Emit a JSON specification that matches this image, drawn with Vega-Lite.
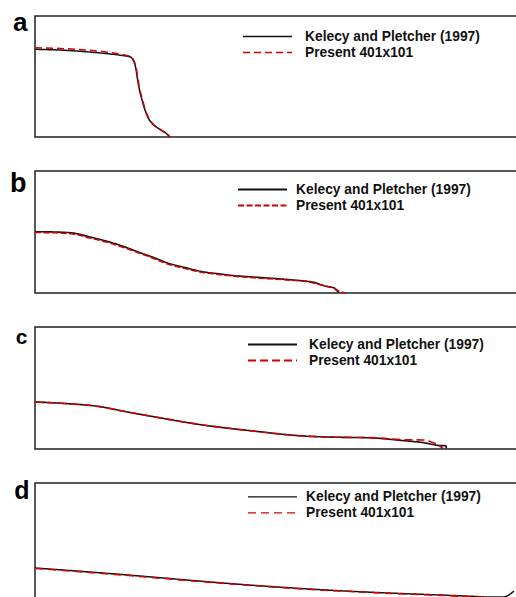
{
  "$schema": "https://vega.github.io/schema/vega-lite/v6.json",
  "padding": {"left": 8, "top": 8, "right": 0, "bottom": 0},
  "background": "white",
  "spacing": 34,
  "bounds": "flush",
  "config": {
    "view": {"stroke": "#222222", "strokeWidth": 1.5},
    "font": "Liberation Sans",
    "legend": {
      "title": null, "orient": "none", "symbolType": "stroke", "symbolSize": 2401,
      "symbolStrokeWidth": 1.5, "clipHeight": 13, "rowPadding": 1, "padding": 0,
      "labelFont": "Liberation Sans", "labelFontWeight": "bold", "labelFontSize": 13.8,
      "labelColor": "#111111", "labelLimit": 400
    },
    "axisY": {
      "domain": false, "ticks": false, "labels": false, "grid": false,
      "titleAngle": 0, "titleAlign": "right", "titleBaseline": "alphabetic",
      "titleFont": "Liberation Sans", "titleFontWeight": "bold", "titleColor": "#000000"
    }
  },
  "resolve": {
    "scale": {"x": "independent", "y": "independent", "color": "independent", "strokeDash": "independent"},
    "legend": {"color": "independent", "strokeDash": "independent"}
  },
  "data": {"values": [
    {"panel": "a", "series": "Kelecy and Pletcher (1997)", "x": 0, "y": 87.7},
    {"panel": "a", "series": "Kelecy and Pletcher (1997)", "x": 30, "y": 86.7},
    {"panel": "a", "series": "Kelecy and Pletcher (1997)", "x": 60, "y": 84.5},
    {"panel": "a", "series": "Kelecy and Pletcher (1997)", "x": 85, "y": 81.8},
    {"panel": "a", "series": "Kelecy and Pletcher (1997)", "x": 95.7, "y": 80},
    {"panel": "a", "series": "Kelecy and Pletcher (1997)", "x": 98, "y": 77},
    {"panel": "a", "series": "Kelecy and Pletcher (1997)", "x": 100.7, "y": 69.3},
    {"panel": "a", "series": "Kelecy and Pletcher (1997)", "x": 102.5, "y": 58},
    {"panel": "a", "series": "Kelecy and Pletcher (1997)", "x": 104, "y": 49.3},
    {"panel": "a", "series": "Kelecy and Pletcher (1997)", "x": 107.3, "y": 36},
    {"panel": "a", "series": "Kelecy and Pletcher (1997)", "x": 110, "y": 27},
    {"panel": "a", "series": "Kelecy and Pletcher (1997)", "x": 112.3, "y": 21},
    {"panel": "a", "series": "Kelecy and Pletcher (1997)", "x": 117.3, "y": 13.3},
    {"panel": "a", "series": "Kelecy and Pletcher (1997)", "x": 122, "y": 9.5},
    {"panel": "a", "series": "Kelecy and Pletcher (1997)", "x": 127.3, "y": 6},
    {"panel": "a", "series": "Kelecy and Pletcher (1997)", "x": 132.3, "y": 2.7},
    {"panel": "a", "series": "Kelecy and Pletcher (1997)", "x": 134.7, "y": 0},
    {"panel": "a", "series": "Present 401x101", "x": 0, "y": 89.3},
    {"panel": "a", "series": "Present 401x101", "x": 30, "y": 88.3},
    {"panel": "a", "series": "Present 401x101", "x": 60, "y": 86.3},
    {"panel": "a", "series": "Present 401x101", "x": 85, "y": 82.8},
    {"panel": "a", "series": "Present 401x101", "x": 96, "y": 80.3},
    {"panel": "a", "series": "Present 401x101", "x": 98.5, "y": 77},
    {"panel": "a", "series": "Present 401x101", "x": 101.2, "y": 69.3},
    {"panel": "a", "series": "Present 401x101", "x": 103, "y": 58},
    {"panel": "a", "series": "Present 401x101", "x": 104.5, "y": 49.3},
    {"panel": "a", "series": "Present 401x101", "x": 107.8, "y": 36},
    {"panel": "a", "series": "Present 401x101", "x": 110.5, "y": 27},
    {"panel": "a", "series": "Present 401x101", "x": 112.8, "y": 21},
    {"panel": "a", "series": "Present 401x101", "x": 117.8, "y": 13.3},
    {"panel": "a", "series": "Present 401x101", "x": 122.5, "y": 9.5},
    {"panel": "a", "series": "Present 401x101", "x": 127.8, "y": 6},
    {"panel": "a", "series": "Present 401x101", "x": 132.8, "y": 2.7},
    {"panel": "a", "series": "Present 401x101", "x": 135.2, "y": 0},

    {"panel": "b", "series": "Kelecy and Pletcher (1997)", "x": 0, "y": 61.3},
    {"panel": "b", "series": "Kelecy and Pletcher (1997)", "x": 20, "y": 61},
    {"panel": "b", "series": "Kelecy and Pletcher (1997)", "x": 37.7, "y": 60},
    {"panel": "b", "series": "Kelecy and Pletcher (1997)", "x": 55, "y": 56},
    {"panel": "b", "series": "Kelecy and Pletcher (1997)", "x": 72.7, "y": 51.6},
    {"panel": "b", "series": "Kelecy and Pletcher (1997)", "x": 90, "y": 46},
    {"panel": "b", "series": "Kelecy and Pletcher (1997)", "x": 106, "y": 40},
    {"panel": "b", "series": "Kelecy and Pletcher (1997)", "x": 120, "y": 35},
    {"panel": "b", "series": "Kelecy and Pletcher (1997)", "x": 132.7, "y": 30},
    {"panel": "b", "series": "Kelecy and Pletcher (1997)", "x": 150, "y": 25.5},
    {"panel": "b", "series": "Kelecy and Pletcher (1997)", "x": 166, "y": 21.6},
    {"panel": "b", "series": "Kelecy and Pletcher (1997)", "x": 185, "y": 19},
    {"panel": "b", "series": "Kelecy and Pletcher (1997)", "x": 199.3, "y": 17.3},
    {"panel": "b", "series": "Kelecy and Pletcher (1997)", "x": 215, "y": 16.2},
    {"panel": "b", "series": "Kelecy and Pletcher (1997)", "x": 232.7, "y": 15},
    {"panel": "b", "series": "Kelecy and Pletcher (1997)", "x": 255, "y": 13.3},
    {"panel": "b", "series": "Kelecy and Pletcher (1997)", "x": 272.7, "y": 11.6},
    {"panel": "b", "series": "Kelecy and Pletcher (1997)", "x": 280, "y": 10.5},
    {"panel": "b", "series": "Kelecy and Pletcher (1997)", "x": 286, "y": 8.3},
    {"panel": "b", "series": "Kelecy and Pletcher (1997)", "x": 292, "y": 6.5},
    {"panel": "b", "series": "Kelecy and Pletcher (1997)", "x": 299.3, "y": 5},
    {"panel": "b", "series": "Kelecy and Pletcher (1997)", "x": 302.7, "y": 1.6},
    {"panel": "b", "series": "Kelecy and Pletcher (1997)", "x": 304, "y": 0.5},
    {"panel": "b", "series": "Present 401x101", "x": 0, "y": 60.5},
    {"panel": "b", "series": "Present 401x101", "x": 20, "y": 60.2},
    {"panel": "b", "series": "Present 401x101", "x": 37.7, "y": 59},
    {"panel": "b", "series": "Present 401x101", "x": 55, "y": 55},
    {"panel": "b", "series": "Present 401x101", "x": 72.7, "y": 50.6},
    {"panel": "b", "series": "Present 401x101", "x": 90, "y": 45},
    {"panel": "b", "series": "Present 401x101", "x": 106, "y": 39.3},
    {"panel": "b", "series": "Present 401x101", "x": 120, "y": 34},
    {"panel": "b", "series": "Present 401x101", "x": 132.7, "y": 29},
    {"panel": "b", "series": "Present 401x101", "x": 150, "y": 24.5},
    {"panel": "b", "series": "Present 401x101", "x": 166, "y": 20.8},
    {"panel": "b", "series": "Present 401x101", "x": 185, "y": 18.3},
    {"panel": "b", "series": "Present 401x101", "x": 199.3, "y": 16.8},
    {"panel": "b", "series": "Present 401x101", "x": 215, "y": 15.5},
    {"panel": "b", "series": "Present 401x101", "x": 232.7, "y": 14.3},
    {"panel": "b", "series": "Present 401x101", "x": 255, "y": 12.8},
    {"panel": "b", "series": "Present 401x101", "x": 272.7, "y": 11.2},
    {"panel": "b", "series": "Present 401x101", "x": 286, "y": 8},
    {"panel": "b", "series": "Present 401x101", "x": 299.3, "y": 4.5},
    {"panel": "b", "series": "Present 401x101", "x": 304, "y": 2},
    {"panel": "b", "series": "Present 401x101", "x": 311, "y": 0},

    {"panel": "c", "series": "Kelecy and Pletcher (1997)", "x": 0, "y": 47},
    {"panel": "c", "series": "Kelecy and Pletcher (1997)", "x": 30, "y": 45.5},
    {"panel": "c", "series": "Kelecy and Pletcher (1997)", "x": 64.7, "y": 42.4},
    {"panel": "c", "series": "Kelecy and Pletcher (1997)", "x": 90, "y": 37.5},
    {"panel": "c", "series": "Kelecy and Pletcher (1997)", "x": 118, "y": 32.4},
    {"panel": "c", "series": "Kelecy and Pletcher (1997)", "x": 168, "y": 24},
    {"panel": "c", "series": "Kelecy and Pletcher (1997)", "x": 218, "y": 18},
    {"panel": "c", "series": "Kelecy and Pletcher (1997)", "x": 268, "y": 13},
    {"panel": "c", "series": "Kelecy and Pletcher (1997)", "x": 300, "y": 11.8},
    {"panel": "c", "series": "Kelecy and Pletcher (1997)", "x": 334.7, "y": 11.2},
    {"panel": "c", "series": "Kelecy and Pletcher (1997)", "x": 368, "y": 8.4},
    {"panel": "c", "series": "Kelecy and Pletcher (1997)", "x": 388, "y": 6.4},
    {"panel": "c", "series": "Kelecy and Pletcher (1997)", "x": 404.7, "y": 3.5},
    {"panel": "c", "series": "Kelecy and Pletcher (1997)", "x": 410.8, "y": 3.3},
    {"panel": "c", "series": "Kelecy and Pletcher (1997)", "x": 411.3, "y": 0.5},
    {"panel": "c", "series": "Present 401x101", "x": 0, "y": 47},
    {"panel": "c", "series": "Present 401x101", "x": 30, "y": 45.5},
    {"panel": "c", "series": "Present 401x101", "x": 64.7, "y": 42.4},
    {"panel": "c", "series": "Present 401x101", "x": 90, "y": 37.5},
    {"panel": "c", "series": "Present 401x101", "x": 118, "y": 32.4},
    {"panel": "c", "series": "Present 401x101", "x": 168, "y": 24},
    {"panel": "c", "series": "Present 401x101", "x": 218, "y": 18},
    {"panel": "c", "series": "Present 401x101", "x": 268, "y": 13},
    {"panel": "c", "series": "Present 401x101", "x": 300, "y": 11.8},
    {"panel": "c", "series": "Present 401x101", "x": 334.7, "y": 11.4},
    {"panel": "c", "series": "Present 401x101", "x": 368, "y": 9.3},
    {"panel": "c", "series": "Present 401x101", "x": 388, "y": 9},
    {"panel": "c", "series": "Present 401x101", "x": 396, "y": 7},
    {"panel": "c", "series": "Present 401x101", "x": 404.7, "y": 3},
    {"panel": "c", "series": "Present 401x101", "x": 408, "y": 0.3},

    {"panel": "d", "series": "Kelecy and Pletcher (1997)", "x": 0, "y": 37},
    {"panel": "d", "series": "Kelecy and Pletcher (1997)", "x": 48, "y": 33.5},
    {"panel": "d", "series": "Kelecy and Pletcher (1997)", "x": 96.6, "y": 29.7},
    {"panel": "d", "series": "Kelecy and Pletcher (1997)", "x": 146, "y": 25.5},
    {"panel": "d", "series": "Kelecy and Pletcher (1997)", "x": 196.6, "y": 21.3},
    {"panel": "d", "series": "Kelecy and Pletcher (1997)", "x": 246, "y": 17.8},
    {"panel": "d", "series": "Kelecy and Pletcher (1997)", "x": 296.6, "y": 14.7},
    {"panel": "d", "series": "Kelecy and Pletcher (1997)", "x": 346, "y": 12.3},
    {"panel": "d", "series": "Kelecy and Pletcher (1997)", "x": 396.6, "y": 10.3},
    {"panel": "d", "series": "Kelecy and Pletcher (1997)", "x": 430, "y": 9},
    {"panel": "d", "series": "Kelecy and Pletcher (1997)", "x": 456.6, "y": 8},
    {"panel": "d", "series": "Kelecy and Pletcher (1997)", "x": 468, "y": 8},
    {"panel": "d", "series": "Kelecy and Pletcher (1997)", "x": 473.3, "y": 9.7},
    {"panel": "d", "series": "Kelecy and Pletcher (1997)", "x": 479, "y": 14},
    {"panel": "d", "series": "Present 401x101", "x": 0, "y": 36.6},
    {"panel": "d", "series": "Present 401x101", "x": 48, "y": 33},
    {"panel": "d", "series": "Present 401x101", "x": 96.6, "y": 29.2},
    {"panel": "d", "series": "Present 401x101", "x": 146, "y": 25},
    {"panel": "d", "series": "Present 401x101", "x": 196.6, "y": 21},
    {"panel": "d", "series": "Present 401x101", "x": 246, "y": 17.4},
    {"panel": "d", "series": "Present 401x101", "x": 296.6, "y": 14.4},
    {"panel": "d", "series": "Present 401x101", "x": 346, "y": 12},
    {"panel": "d", "series": "Present 401x101", "x": 396.6, "y": 10},
    {"panel": "d", "series": "Present 401x101", "x": 430, "y": 8.5},
    {"panel": "d", "series": "Present 401x101", "x": 456.6, "y": 7.3},
    {"panel": "d", "series": "Present 401x101", "x": 466, "y": 6.3},
    {"panel": "d", "series": "Present 401x101", "x": 473, "y": 6.5},
    {"panel": "d", "series": "Present 401x101", "x": 479, "y": 10}
  ]},
  "vconcat": [
    {
      "width": 482, "height": 121,
      "transform": [{"filter": "datum.panel == 'a'"}],
      "mark": {"type": "line", "strokeWidth": 1.5, "interpolate": "monotone"},
      "encoding": {
        "x": {"field": "x", "type": "quantitative", "scale": {"domain": [0, 482], "nice": false, "zero": false}, "axis": null},
        "y": {"field": "y", "type": "quantitative", "scale": {"domain": [0, 121], "nice": false}, "axis": {"title": "a", "titleX": -8, "titleY": 14.5, "titleFontSize": 26}},
        "color": {"field": "series", "type": "nominal", "scale": {"domain": ["Kelecy and Pletcher (1997)", "Present 401x101"], "range": ["#111111", "#d40000"]}, "legend": {"legendX": 207, "legendY": 14, "labelOffset": 12}},
        "strokeDash": {"field": "series", "type": "nominal", "scale": {"domain": ["Kelecy and Pletcher (1997)", "Present 401x101"], "range": [[1, 0], [7, 4]]}, "legend": {"legendX": 207, "legendY": 14, "labelOffset": 12}}
      }
    },
    {
      "width": 482, "height": 122,
      "transform": [{"filter": "datum.panel == 'b'"}],
      "mark": {"type": "line", "strokeWidth": 1.6, "interpolate": "monotone"},
      "encoding": {
        "x": {"field": "x", "type": "quantitative", "scale": {"domain": [0, 482], "nice": false, "zero": false}, "axis": null},
        "y": {"field": "y", "type": "quantitative", "scale": {"domain": [0, 122], "nice": false}, "axis": {"title": "b", "titleX": -9, "titleY": 20.5, "titleFontSize": 27}},
        "color": {"field": "series", "type": "nominal", "scale": {"domain": ["Kelecy and Pletcher (1997)", "Present 401x101"], "range": ["#111111", "#d40000"]}, "legend": {"legendX": 202, "legendY": 12, "labelOffset": 8, "symbolStrokeWidth": 2}},
        "strokeDash": {"field": "series", "type": "nominal", "scale": {"domain": ["Kelecy and Pletcher (1997)", "Present 401x101"], "range": [[1, 0], [6, 2.5]]}, "legend": {"legendX": 202, "legendY": 12, "labelOffset": 8, "symbolStrokeWidth": 2}}
      }
    },
    {
      "width": 482, "height": 122,
      "transform": [{"filter": "datum.panel == 'c'"}],
      "mark": {"type": "line", "strokeWidth": 1.6, "interpolate": "monotone"},
      "encoding": {
        "x": {"field": "x", "type": "quantitative", "scale": {"domain": [0, 482], "nice": false, "zero": false}, "axis": null},
        "y": {"field": "y", "type": "quantitative", "scale": {"domain": [0, 122], "nice": false}, "axis": {"title": "c", "titleX": -8, "titleY": 16.3, "titleFontSize": 21}},
        "color": {"field": "series", "type": "nominal", "scale": {"domain": ["Kelecy and Pletcher (1997)", "Present 401x101"], "range": ["#111111", "#d40000"]}, "legend": {"legendX": 212, "legendY": 11, "labelOffset": 11, "symbolStrokeWidth": 2}},
        "strokeDash": {"field": "series", "type": "nominal", "scale": {"domain": ["Kelecy and Pletcher (1997)", "Present 401x101"], "range": [[1, 0], [8, 4]]}, "legend": {"legendX": 212, "legendY": 11, "labelOffset": 11, "symbolStrokeWidth": 2}}
      }
    },
    {
      "width": 482, "height": 122,
      "transform": [{"filter": "datum.panel == 'd'"}],
      "mark": {"type": "line", "strokeWidth": 1.5, "interpolate": "monotone"},
      "encoding": {
        "x": {"field": "x", "type": "quantitative", "scale": {"domain": [0, 482], "nice": false, "zero": false}, "axis": null},
        "y": {"field": "y", "type": "quantitative", "scale": {"domain": [0, 122], "nice": false}, "axis": {"title": "d", "titleX": -6, "titleY": 15, "titleFontSize": 25}},
        "color": {"field": "series", "type": "nominal", "scale": {"domain": ["Kelecy and Pletcher (1997)", "Present 401x101"], "range": ["#111111", "#d40000"]}, "legend": {"legendX": 212, "legendY": 7.3, "labelOffset": 8, "symbolStrokeWidth": 1.3}},
        "strokeDash": {"field": "series", "type": "nominal", "scale": {"domain": ["Kelecy and Pletcher (1997)", "Present 401x101"], "range": [[1, 0], [8, 5]]}, "legend": {"legendX": 212, "legendY": 7.3, "labelOffset": 8, "symbolStrokeWidth": 1.3}}
      }
    }
  ]
}
